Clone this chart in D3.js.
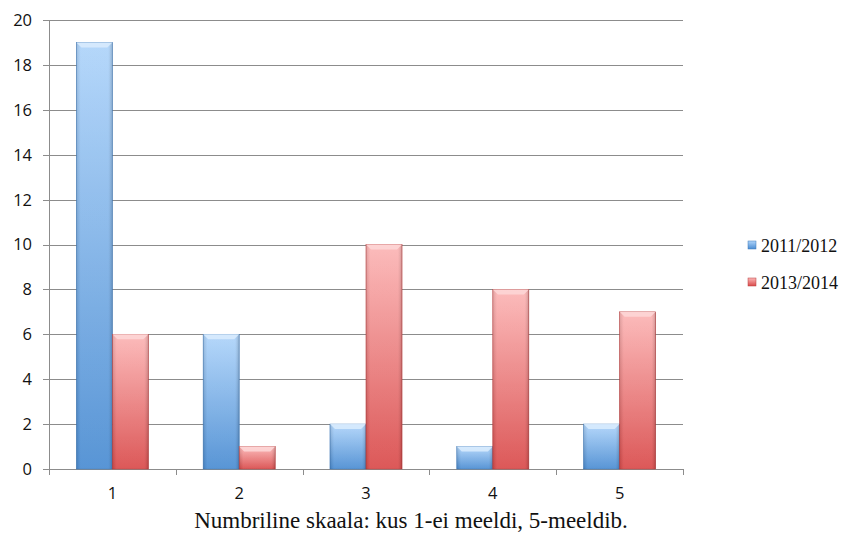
<!DOCTYPE html>
<html>
<head>
<meta charset="utf-8">
<script src="https://cdn.jsdelivr.net/npm/d3@7"></script>
<style>
  body { margin: 0; background: #fff; }
  svg { display: block; }
</style>
</head>
<body>
<div id="chart"></div>
<script>
// data
var categories = ['1', '2', '3', '4', '5'];
var seriesNames = ['2011/2012', '2013/2014'];
var values2011 = [19, 6, 2, 1, 2];
var values2013 = [6, 1, 10, 8, 7];
var yTicks = [0, 2, 4, 6, 8, 10, 12, 14, 16, 18, 20];
var axisTitle = 'Numbriline skaala: kus 1-ei meeldi, 5-meeldib.';

var svg, x, xInner, y, chartWrapper, margin = {}, width, height;
margin.top = 20; margin.left = 49; margin.right = 159; margin.bottom = 64;
width = 842 - margin.left - margin.right;
height = 533 - margin.top - margin.bottom;

var rows = categories.map(function(c, i) {
  return { cat: c, vals: [values2011[i], values2013[i]] };
});

x = d3.scaleBand().domain(categories).range([0, width]).paddingInner(0).paddingOuter(0);
xInner = d3.scaleBand().domain([0, 1]).range([0, x.bandwidth()]).paddingInner(0).paddingOuter(0.76);
y = d3.scaleLinear().domain([0, 20]).range([height, 0]);

svg = d3.select('#chart').append('svg').attr('width', 842).attr('height', 533);

//gradients for the glossy bars
var defs = svg.append('defs');
var colors = [
  { top: '#afd4fa', bottom: '#4a8cd2', edge: '#3f79b8', cap: '#d8ebfd' },
  { top: '#fcb6b6', bottom: '#d94a4a', edge: '#b83d3d', cap: '#fdd6d6' }
];
colors.forEach(function(c, i) {
  var g = defs.append('linearGradient').attr('id', 'grad' + i)
    .attr('x1', 0).attr('y1', 0).attr('x2', 0).attr('y2', 1);
  g.append('stop').attr('offset', '0%').attr('stop-color', c.top);
  g.append('stop').attr('offset', '100%').attr('stop-color', c.bottom);
  var h = defs.append('linearGradient').attr('id', 'side' + i)
    .attr('x1', 0).attr('y1', 0).attr('x2', 1).attr('y2', 0);
  h.append('stop').attr('offset', '0%').attr('stop-color', '#000').attr('stop-opacity', 0.12);
  h.append('stop').attr('offset', '12%').attr('stop-color', '#fff').attr('stop-opacity', 0.08);
  h.append('stop').attr('offset', '88%').attr('stop-color', '#fff').attr('stop-opacity', 0.08);
  h.append('stop').attr('offset', '100%').attr('stop-color', '#000').attr('stop-opacity', 0.18);
});

chartWrapper = svg.append('g').attr('transform', 'translate(' + margin.left + ',' + margin.top + ')');

//gridlines
chartWrapper.append('g').selectAll('line').data(yTicks).enter().append('line')
  .attr('x1', -6).attr('x2', width)
  .attr('y1', function(d) { return Math.round(y(d)) + 0.5; })
  .attr('y2', function(d) { return Math.round(y(d)) + 0.5; })
  .attr('stroke', '#8c8c8c').attr('stroke-width', 1);

//y axis line
chartWrapper.append('line')
  .attr('x1', 0.5).attr('x2', 0.5).attr('y1', 0).attr('y2', height)
  .attr('stroke', '#8c8c8c');

//y tick labels
chartWrapper.append('g').selectAll('text').data(yTicks).enter().append('text')
  .attr('x', -17).attr('y', function(d) { return y(d); })
  .attr('dy', '0.36em').attr('text-anchor', 'end')
  .style('font-family', '"Open Sans", "DejaVu Sans", sans-serif').style('font-size', '16.5px')
  .attr('fill', '#111')
  .text(function(d) { return d; });

//x axis ticks between categories
var xTickPos = categories.map(function(c) { return x(c); }).concat([width]);
chartWrapper.append('g').selectAll('line').data(xTickPos).enter().append('line')
  .attr('x1', function(d) { return Math.round(d) + 0.5; })
  .attr('x2', function(d) { return Math.round(d) + 0.5; })
  .attr('y1', height).attr('y2', height + 6)
  .attr('stroke', '#8c8c8c');

//x labels
chartWrapper.append('g').selectAll('text').data(categories).enter().append('text')
  .attr('x', function(d) { return x(d) + x.bandwidth() / 2; })
  .attr('y', height + 24)
  .attr('dy', '0.36em')
  .attr('text-anchor', 'middle')
  .style('font-family', '"Open Sans", "DejaVu Sans", sans-serif').style('font-size', '16.5px')
  .attr('fill', '#111')
  .text(function(d) { return d; });

//bars
var groups = chartWrapper.selectAll('.grp').data(rows).enter().append('g')
  .attr('transform', function(d) { return 'translate(' + x(d.cat) + ',0)'; });

var bar = groups.selectAll('.bar').data(function(d) { return d.vals; }).enter().append('g');

bar.append('rect')
  .attr('x', function(d, i) { return xInner(i); })
  .attr('y', function(d) { return y(d); })
  .attr('width', xInner.bandwidth())
  .attr('height', function(d) { return height - y(d); })
  .attr('fill', function(d, i) { return 'url(#grad' + i + ')'; })
  .attr('stroke', function(d, i) { return colors[i].edge; })
  .attr('stroke-width', 0.6);

bar.append('rect')
  .attr('x', function(d, i) { return xInner(i); })
  .attr('y', function(d) { return y(d); })
  .attr('width', xInner.bandwidth())
  .attr('height', function(d) { return height - y(d); })
  .attr('fill', function(d, i) { return 'url(#side' + i + ')'; });

//bevelled cap
bar.append('path')
  .attr('d', function(d, i) {
    var x0 = xInner(i), x1 = x0 + xInner.bandwidth(), t = y(d), b = Math.min(5, (height - t) / 2);
    return 'M' + x0 + ',' + t + 'L' + x1 + ',' + t + 'L' + (x1 - 5) + ',' + (t + b) + 'L' + (x0 + 5) + ',' + (t + b) + 'Z';
  })
  .attr('fill', function(d, i) { return colors[i].cap; })
  .attr('opacity', 0.9);

//axis title
svg.append('text')
  .attr('x', 411).attr('y', 528)
  .attr('text-anchor', 'middle')
  .style('font-family', '"Liberation Serif", "Times New Roman", serif').style('font-size', '23px')
  .attr('fill', '#111')
  .text(axisTitle);

//legend
var legend = svg.append('g').selectAll('g').data(seriesNames).enter().append('g')
  .attr('transform', function(d, i) { return 'translate(748,' + (246 + i * 37) + ')'; });
legend.append('rect')
  .attr('x', 0).attr('y', -5).attr('width', 8).attr('height', 8)
  .attr('fill', function(d, i) { return 'url(#grad' + i + ')'; })
  .attr('stroke', function(d, i) { return colors[i].edge; }).attr('stroke-width', 0.5);
legend.append('text')
  .attr('x', 13).attr('y', 0).attr('dy', '0.33em')
  .style('font-family', '"Liberation Serif", "Times New Roman", serif').style('font-size', '18px')
  .attr('fill', '#111')
  .text(function(d) { return d; });
</script>
</body>
</html>
